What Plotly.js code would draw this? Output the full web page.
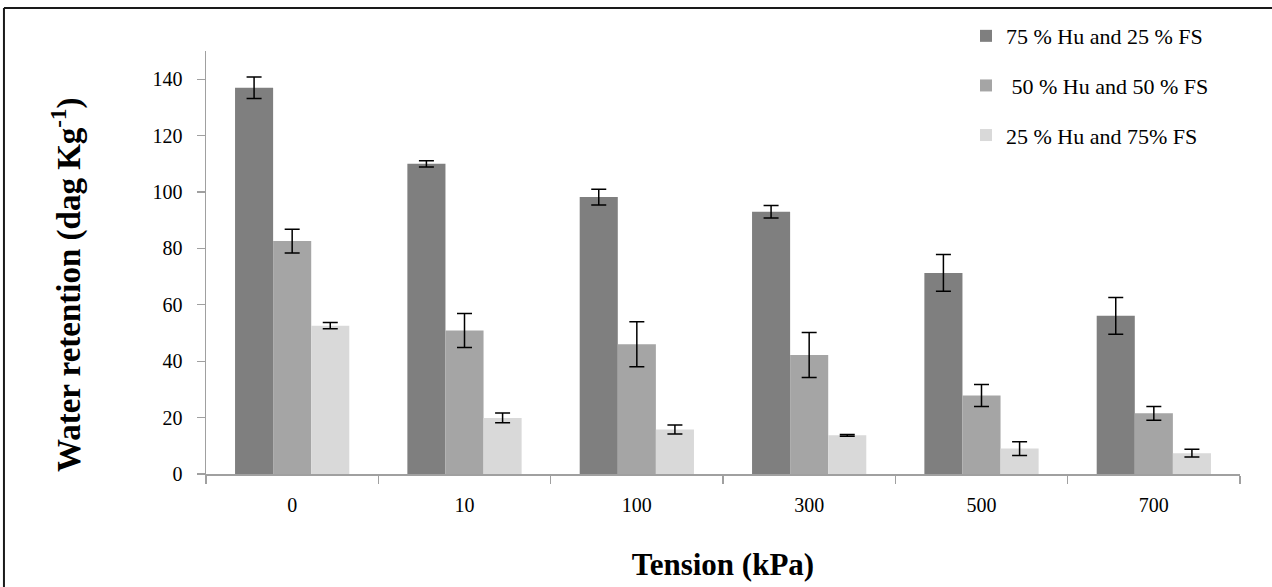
<!DOCTYPE html>
<html>
<head>
<meta charset="utf-8">
<script src="https://cdn.plot.ly/plotly-3.0.1.min.js"></script>
<style>html,body{margin:0;padding:0;background:#fff;}#chart{width:1272px;height:587px;}</style>
</head>
<body>
<div id="chart"></div>
<script>
const categories = ["0", "10", "100", "300", "500", "700"];
const seriesNames = ["75 % Hu and 25 % FS", "\u00a050 % Hu and 50 % FS", "25 % Hu and 75% FS"];
const hu75 = [137, 110, 98.2, 93, 71.3, 56.1];
const hu75Err = [3.8, 1.1, 2.8, 2.2, 6.5, 6.5];
const hu50 = [82.6, 50.9, 46, 42.2, 27.8, 21.5];
const hu50Err = [4.2, 6, 8, 8, 3.9, 2.4];
const hu25 = [52.6, 19.9, 15.8, 13.7, 9, 7.4];
const hu25Err = [1.1, 1.7, 1.6, 0.3, 2.4, 1.4];
const yTicks = [0, 20, 40, 60, 80, 100, 120, 140];
const xTitle = "Tension (kPa)";
const yTitle = "Water retention (dag Kg<sup>-1</sup>)";

const colors = ["#7f7f7f", "#a5a5a5", "#d9d9d9"];
const vals = [hu75, hu50, hu25];
const errs = [hu75Err, hu50Err, hu25Err];

const traces = vals.map((v, i) => ({
  type: "bar",
  name: seriesNames[i],
  x: categories,
  y: v,
  legendgroup: "g" + i,
  marker: {color: colors[i], line: {width: 0}},
  error_y: {type: "data", array: errs[i], visible: true, color: "#000", thickness: 1.5, width: 7.5}
}));

const serif = "'Liberation Serif', 'Times New Roman', serif";
const frame = "#1a1a1a";
const layout = {
  width: 1272, height: 587,
  margin: {l: 206, r: 32, t: 51, b: 113, autoexpand: false},
  paper_bgcolor: "#fff", plot_bgcolor: "#fff",
  font: {family: serif, color: "#000", size: 20},
  barmode: "group",
  bargap: 0.337,
  bargroupgap: 0,
  showlegend: true,
  legend: {
    x: 0.735, y: 1.085, xanchor: "left", yanchor: "top",
    font: {family: serif, size: 22, color: "#000"},
    tracegroupgap: 18, traceorder: "grouped",
    bgcolor: "rgba(0,0,0,0)", borderwidth: 0
  },
  xaxis: {
    type: "category",
    showline: true, linecolor: "#a0a0a0", linewidth: 1.5,
    ticks: "outside", tickson: "boundaries", ticklen: 8, tickcolor: "#a0a0a0", tickwidth: 1.3,
    ticklabelstandoff: 12,
    tickfont: {family: serif, size: 20, color: "#000"},
    showgrid: false, zeroline: false,
    title: {text: "<b>" + xTitle + "</b>", font: {family: serif, size: 31, color: "#000"}, standoff: 39}
  },
  yaxis: {
    range: [0, 150],
    tickvals: yTicks,
    showline: true, linecolor: "#a0a0a0", linewidth: 1.5,
    ticks: "outside", ticklen: 8, tickcolor: "#a0a0a0", tickwidth: 1.3,
    ticklabelstandoff: 10,
    tickfont: {family: serif, size: 20, color: "#000"},
    showgrid: false, zeroline: false
  },
  annotations: [
    {text: "<b>" + yTitle + "</b>", xref: "paper", yref: "paper",
     x: (66 - 206) / 1034, y: (474 - 285) / 423, xanchor: "center", yanchor: "middle",
     textangle: -90, showarrow: false, font: {family: serif, size: 33, color: "#000"}}
  ],
  shapes: [
    {type: "line", xref: "paper", yref: "paper", x0: -0.1954, x1: 1.031, y0: 1.1017, y1: 1.1017, line: {color: frame, width: 2}},
    {type: "line", xref: "paper", yref: "paper", x0: -0.1954, x1: -0.1954, y0: 1.1017, y1: -0.27, line: {color: frame, width: 2}}
  ]
};

Plotly.newPlot("chart", traces, layout, {displayModeBar: false, staticPlot: true});
</script>
</body>
</html>
